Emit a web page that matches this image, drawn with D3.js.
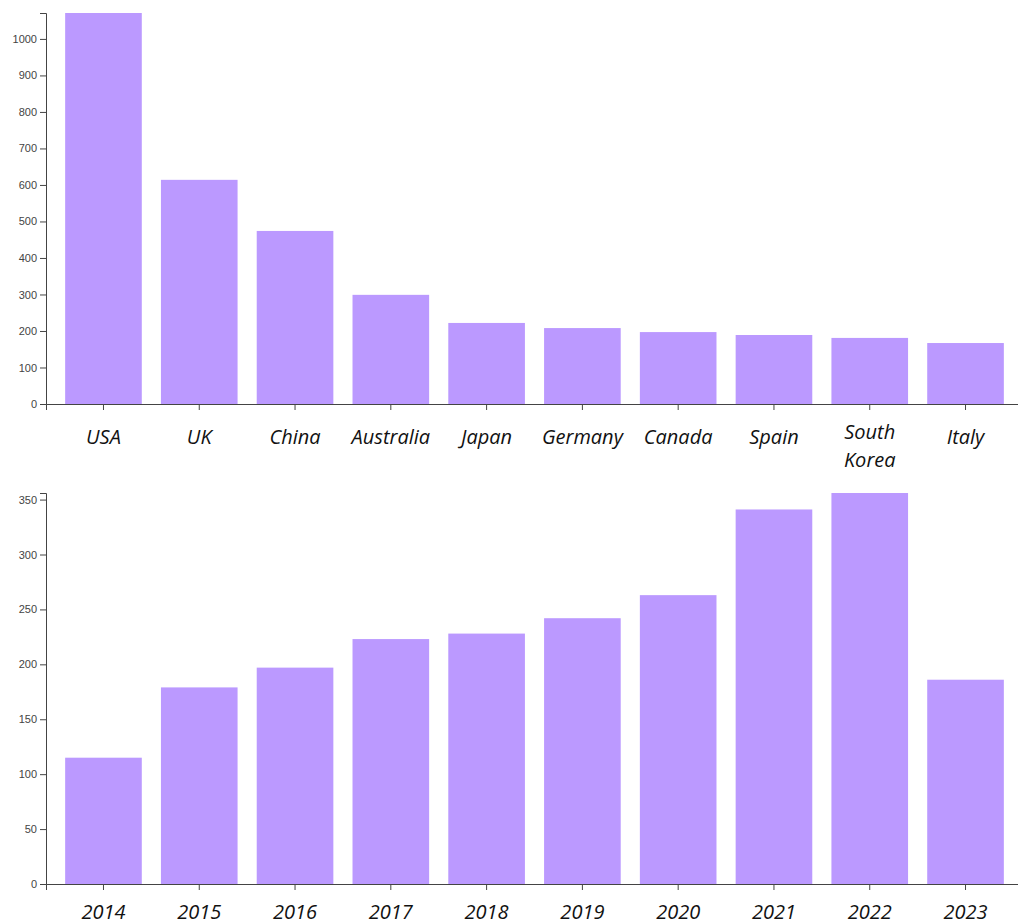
<!DOCTYPE html>
<html>
<head>
<meta charset="utf-8">
<script src="https://cdn.jsdelivr.net/npm/d3@7"></script>
<style>
  body { margin: 0; background: #fff; overflow: hidden; }
  .tick text { font-family: Arial, "Liberation Sans", sans-serif; }
</style>
</head>
<body>
<div id="chart"></div>
<script>
var width = 1018, height = 924

var countries = ['USA', 'UK', 'China', 'Australia', 'Japan', 'Germany', 'Canada', 'Spain', 'South Korea', 'Italy']
var countryValues = [1071, 614, 474, 299, 222, 208, 197, 189, 181, 167]
var years = ['2014', '2015', '2016', '2017', '2018', '2019', '2020', '2021', '2022', '2023']
var yearValues = [115, 179, 197, 223, 228, 242, 263, 341, 356, 186]
var countryTicks = [0, 100, 200, 300, 400, 500, 600, 700, 800, 900, 1000]
var yearTicks = [0, 50, 100, 150, 200, 250, 300, 350]

var barColor = '#bb99ff'

var svg = d3.select("#chart")
  .append("svg")
  .attr("width", width)
  .attr("height", height)

function drawChart(cats, vals, ticks, top, bottom, labelDy) {
  var data = cats.map((c, i) => ({ cat: c, value: vals[i] }))

  var xScale = d3.scaleBand()
    .domain(cats)
    .range([46, 1023])
    .padding(0.2)

  var yScale = d3.scaleLinear()
    .domain([0, d3.max(vals)])
    .range([bottom, top])

  svg.selectAll(null)
    .data(data)
    .enter()
    .append("rect")
    .attr("x", d => xScale(d.cat))
    .attr("y", d => yScale(d.value))
    .attr("width", xScale.bandwidth())
    .attr("height", d => bottom - yScale(d.value))
    .attr("fill", barColor)

  // Y axis
  var yAxis = svg.append("g")
    .attr("transform", `translate(46,0)`)
    .call(d3.axisLeft(yScale).tickValues(ticks).tickFormat(d3.format('d')).tickSizeOuter(6))
  yAxis.selectAll("text")
    .attr("font-size", "11px")
    .attr("fill", "#444")
  yAxis.selectAll("line, path").attr("stroke", "#444")

  // X axis
  var xAxis = svg.append("g")
    .attr("transform", `translate(0,${bottom})`)
    .call(d3.axisBottom(xScale).tickSizeOuter(0).tickSize(6).tickFormat(''))
  xAxis.selectAll("line, path").attr("stroke", "#444")

  // category labels
  var labels = svg.append("g")
    .selectAll("text")
    .data(cats)
    .enter()
    .append("text")
    .attr("x", d => xScale(d) + xScale.bandwidth() / 2)
    .attr("y", bottom + labelDy)
    .attr("text-anchor", "middle")
    .attr("font-family", "'Open Sans', sans-serif")
    .attr("font-style", "italic")
    .attr("font-size", "20px")
    .attr("fill", "#111")

  labels.each(function(d) {
    var words = d.split(' ')
    var el = d3.select(this)
    if (words.length === 1) {
      el.text(d)
    } else {
      words.forEach((w, i) => {
        el.append("tspan")
          .attr("x", xScale(d) + xScale.bandwidth() / 2)
          .attr("dy", i === 0 ? -5 : 28)
          .text(w)
      })
    }
  })
}

drawChart(countries, countryValues, countryTicks, 13, 404, 40)
drawChart(years, yearValues, yearTicks, 493, 884, 35)
</script>
</body>
</html>
